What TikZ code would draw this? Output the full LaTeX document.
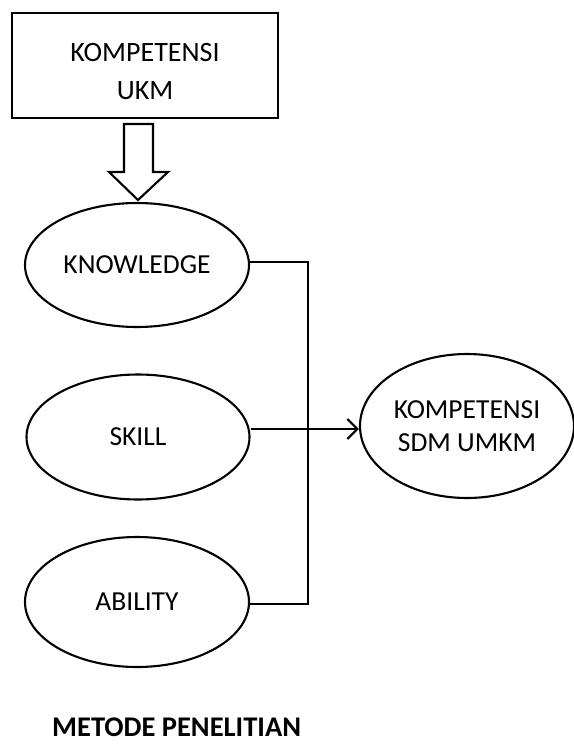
\documentclass[tikz,border=0pt]{standalone}
\usepackage{fontspec}
\setmainfont{Carlito}
\usetikzlibrary{shapes.geometric,arrows.meta}
\begin{document}
\begin{tikzpicture}[x=1pt,y=-1pt,
  lw/.style={line width=2.1pt},
  oval/.style={ellipse,draw,lw,inner sep=0pt,font=\fontsize{27.5}{33}\selectfont,align=center},
  boxnode/.style={rectangle,draw,lw,inner sep=0pt},
  boxtext/.style={inner sep=0pt,font=\fontsize{28}{38}\selectfont,align=center},
  conn/.style={lw},
  tip/.style={lw,-{Straight Barb[length=10pt,width=20pt,line width=2.1pt]}}
]
\useasboundingbox (0,0) rectangle (573,744);
\node[boxnode,minimum width=266pt,minimum height=105pt] (ukm) at (145,65.5) {};
\node[boxtext] (ukmtext) at (145,72) {KOMPETENSI\\UKM};
\node[oval,minimum width=224pt,minimum height=124pt] (know) at (137,265) {KNOWLEDGE};
\node[oval,minimum width=223pt,minimum height=125pt] (skill) at (138,437) {SKILL};
\node[oval,minimum width=224pt,minimum height=130pt] (abil) at (137,602) {ABILITY};
\node[oval,minimum width=214pt,minimum height=144pt] (sdm) at (467,426) {KOMPETENSI\\SDM UMKM};
\node[anchor=base west,font=\fontsize{28.5}{34}\selectfont\bfseries,inner sep=0pt] (title) at (52,736) {METODE PENELITIAN};
% block arrow
\draw[lw,line join=miter] (124,124) -- (153,124) -- (153,172) -- (168,172) -- (138,200) -- (109,172) -- (124,172) -- cycle;
% connectors
\coordinate (jt) at (308,262);
\coordinate (jb) at (308,604);
\draw[conn] (know.east |- jt) -- (jt) -- (jb) -- (abil.east |- jb);
\draw[tip] (skill.east |- 0,429) -- (sdm.west |- 0,429);
\end{tikzpicture}
\end{document}
